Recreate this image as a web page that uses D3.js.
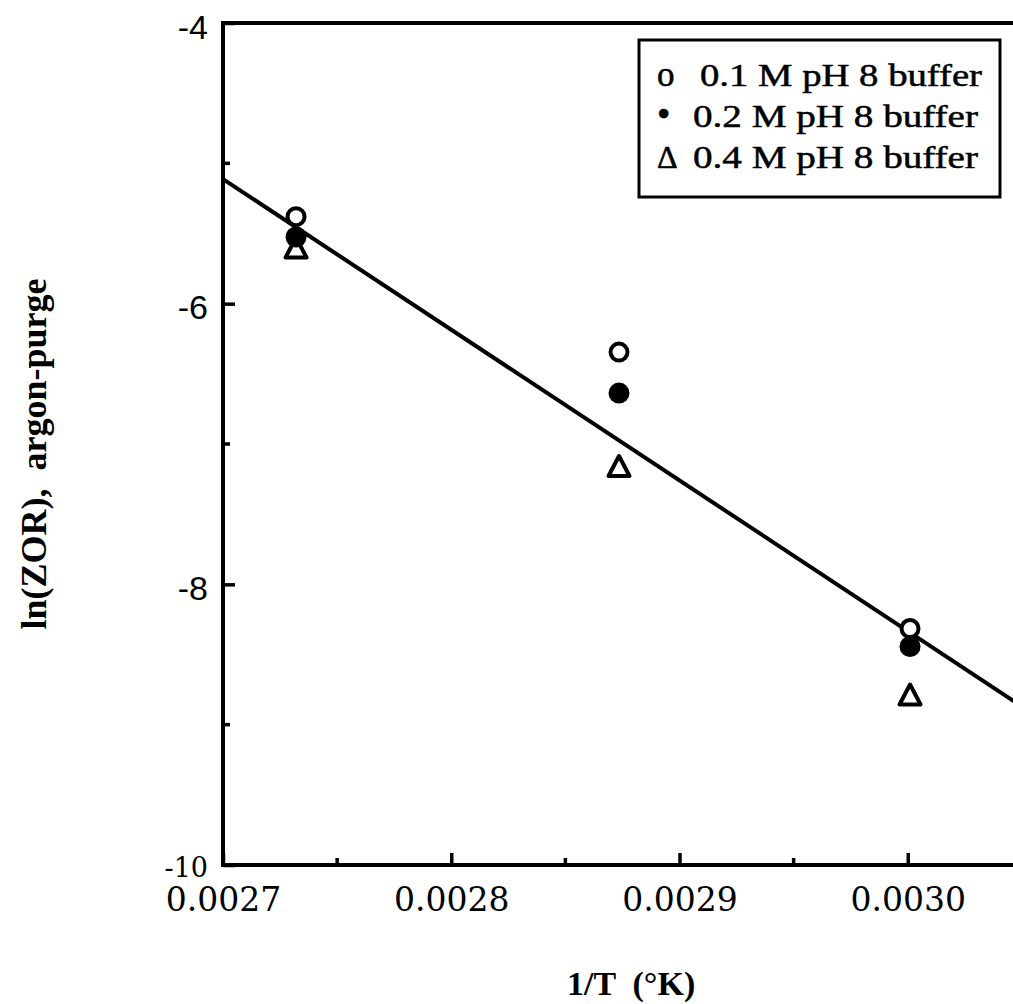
<!DOCTYPE html>
<html>
<head>
<meta charset="utf-8">
<script src="https://d3js.org/d3.v7.min.js"></script>
<style>
  body { margin: 0; background: #fff; }
  svg { display: block; }
</style>
</head>
<body>
<div id="chart"></div>
<script>
// data
const invT = [0.002732, 0.0028735, 0.003001];
const buf01 = [-5.38, -6.345, -8.315];
const buf02 = [-5.525, -6.637, -8.443];
const buf04 = [-5.60, -7.157, -8.785];
const fitX = [0.0027, 0.00305];
const fitY = [-5.112, -8.87];
const xMajor = [0.0027, 0.0028, 0.0029, 0.0030];
const xMinor = [0.00275, 0.00285, 0.00295, 0.00305];
const yMajor = [-10, -8, -6, -4];
const yMinor = [-9, -7, -5];
const legendLabels = ["0.1 M pH 8 buffer", "0.2 M pH 8 buffer", "0.4 M pH 8 buffer"];
const legendGlyphs = ["o", "\u2022", "\u0394"];

const width = 1013, height = 1004;
const svg = d3.select("#chart").append("svg")
    .attr("width", width)
    .attr("height", height);

const x = d3.scaleLinear().domain([0.0027, 0.0031]).range([223, 1136]);
const y = d3.scaleLinear().domain([-10, -4]).range([865, 23]);

// plot clip so the fit line stays inside the frame
svg.append("clipPath").attr("id", "plot")
  .append("rect")
    .attr("x", x(0.0027)).attr("y", y(-4))
    .attr("width", x(0.0031) - x(0.0027)).attr("height", y(-10) - y(-4));

// frame
svg.append("rect")
    .attr("x", x(0.0027)).attr("y", y(-4))
    .attr("width", x(0.0031) - x(0.0027)).attr("height", y(-10) - y(-4))
    .attr("fill", "none").attr("stroke", "#000").attr("stroke-width", 4);

// x axis
const xAxis = svg.append("g")
    .attr("transform", `translate(0,${y(-10)})`)
    .call(d3.axisBottom(x).tickValues(xMajor).tickFormat(d3.format(".4f"))
      .tickSizeInner(-12).tickSizeOuter(0).tickPadding(23));
xAxis.select(".domain").remove();
xAxis.selectAll("line").attr("stroke-width", 3.5);
xAxis.selectAll("text")
    .attr("font-family", "DejaVu Serif").attr("font-size", 33).attr("fill", "#000");

svg.append("g").selectAll("line").data(xMinor).join("line")
    .attr("x1", d => x(d)).attr("x2", d => x(d))
    .attr("y1", y(-10)).attr("y2", y(-10) - 7)
    .attr("stroke", "#000").attr("stroke-width", 3.5);

// y axis (plain hyphen for the minus, as in the scan)
const yAxis = svg.append("g")
    .attr("transform", `translate(${x(0.0027)},0)`)
    .call(d3.axisLeft(y).tickValues(yMajor).tickFormat(d => String(d))
      .tickSizeInner(-12).tickSizeOuter(0).tickPadding(15));
yAxis.select(".domain").remove();
yAxis.selectAll("line").attr("stroke-width", 3.5);
yAxis.selectAll("text")
    .attr("fill", "#000")
    .attr("font-family", d => d === -10 ? "DejaVu Serif" : "Liberation Sans")
    .attr("font-size", d => d === -10 ? 27 : 34)
    .attr("dy", d => d === -10 ? "0.42em" : "0.45em");

svg.append("g").selectAll("line").data(yMinor).join("line")
    .attr("x1", x(0.0027)).attr("x2", x(0.0027) + 7)
    .attr("y1", d => y(d)).attr("y2", d => y(d))
    .attr("stroke", "#000").attr("stroke-width", 3.5);

// fit line
const fit = fitX.map((v, i) => ({x: v, y: fitY[i]}));
svg.append("path")
    .datum(fit)
    .attr("clip-path", "url(#plot)")
    .attr("fill", "none").attr("stroke", "#000").attr("stroke-width", 4)
    .attr("d", d3.line().x(d => x(d.x)).y(d => y(d.y)));

// markers
const tri = "M0,-10L10.5,10L-10.5,10Z";
svg.append("g").selectAll("path").data(invT.map((v, i) => [v, buf04[i]])).join("path")
    .attr("transform", d => `translate(${x(d[0])},${y(d[1])})`)
    .attr("d", tri)
    .attr("fill", "#fff").attr("stroke", "#000").attr("stroke-width", 4)
    .attr("stroke-linejoin", "round");
svg.append("g").selectAll("circle").data(invT.map((v, i) => [v, buf02[i]])).join("circle")
    .attr("cx", d => x(d[0])).attr("cy", d => y(d[1])).attr("r", 10.5)
    .attr("fill", "#000");
svg.append("g").selectAll("circle").data(invT.map((v, i) => [v, buf01[i]])).join("circle")
    .attr("cx", d => x(d[0])).attr("cy", d => y(d[1])).attr("r", 8.5)
    .attr("fill", "#fff").attr("stroke", "#000").attr("stroke-width", 4);

// legend
const legend = svg.append("g");
legend.append("rect")
    .attr("x", 639).attr("y", 40).attr("width", 361).attr("height", 157)
    .attr("fill", "#fff").attr("stroke", "#000").attr("stroke-width", 3);
const glyphSize = [35, 38, 32];
legendLabels.forEach((lab, i) => {
  const by = 86 + i * 41;
  legend.append("text")
      .attr("x", 657).attr("y", by)
      .attr("font-family", "Liberation Serif").attr("font-size", glyphSize[i])
      .attr("stroke", "#000").attr("stroke-width", 0.6)
      .text(legendGlyphs[i]);
  legend.append("text")
      .attr("x", i === 0 ? 700 : 693).attr("y", by)
      .attr("font-family", "Liberation Serif").attr("font-size", 32)
      .attr("stroke", "#000").attr("stroke-width", 0.5)
      .attr("textLength", i === 0 ? 282 : 285).attr("lengthAdjust", "spacingAndGlyphs")
      .text(lab);
});

// axis titles
svg.append("text")
    .attr("x", 567).attr("y", 995)
    .attr("font-family", "Liberation Serif").attr("font-weight", "bold").attr("font-size", 34)
    .style("white-space", "pre")
    .text("1/T  (\u00B0K)");

svg.append("text")
    .attr("transform", "translate(46,454) rotate(-90)")
    .attr("text-anchor", "middle")
    .attr("font-family", "Liberation Serif").attr("font-weight", "bold").attr("font-size", 36)
    .style("white-space", "pre")
    .text("ln(ZOR),  argon-purge");
</script>
</body>
</html>
